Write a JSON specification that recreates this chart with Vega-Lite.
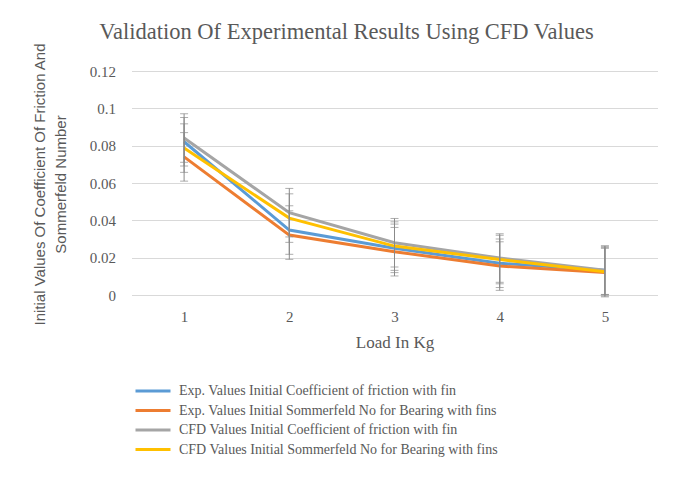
{
  "$schema": "https://vega.github.io/schema/vega-lite/v6.json",
  "width": 526,
  "height": 224,
  "autosize": {"type": "none"},
  "padding": {"left": 131.5, "top": 71, "right": 25.5, "bottom": 201},
  "background": "white",
  "title": {
    "text": "Validation Of  Experimental Results Using CFD Values",
    "font": "Liberation Serif",
    "fontSize": 22.5,
    "fontWeight": "normal",
    "color": "#595959",
    "anchor": "middle",
    "dx": -48,
    "offset": -1
  },
  "config": {
    "view": {"stroke": null},
    "axis": {"labelFont": "Liberation Serif", "labelColor": "#595959", "titleColor": "#595959", "titleFontWeight": "normal"}
  },
  "data": {
    "values": [
      {"Load": 1, "Series": "Exp. Values Initial Coefficient of friction with fin", "Value": 0.0821, "Err": 0.013},
      {"Load": 2, "Series": "Exp. Values Initial Coefficient of friction with fin", "Value": 0.0348, "Err": 0.013},
      {"Load": 3, "Series": "Exp. Values Initial Coefficient of friction with fin", "Value": 0.025, "Err": 0.013},
      {"Load": 4, "Series": "Exp. Values Initial Coefficient of friction with fin", "Value": 0.017, "Err": 0.013},
      {"Load": 5, "Series": "Exp. Values Initial Coefficient of friction with fin", "Value": 0.0132, "Err": 0.013},
      {"Load": 1, "Series": "Exp. Values Initial Sommerfeld No for Bearing with fins", "Value": 0.074, "Err": 0.013},
      {"Load": 2, "Series": "Exp. Values Initial Sommerfeld No for Bearing with fins", "Value": 0.0321, "Err": 0.013},
      {"Load": 3, "Series": "Exp. Values Initial Sommerfeld No for Bearing with fins", "Value": 0.0232, "Err": 0.013},
      {"Load": 4, "Series": "Exp. Values Initial Sommerfeld No for Bearing with fins", "Value": 0.0155, "Err": 0.013},
      {"Load": 5, "Series": "Exp. Values Initial Sommerfeld No for Bearing with fins", "Value": 0.012, "Err": 0.013},
      {"Load": 1, "Series": "CFD Values Initial Coefficient of friction with fin", "Value": 0.0841, "Err": 0.013},
      {"Load": 2, "Series": "CFD Values Initial Coefficient of friction with fin", "Value": 0.0441, "Err": 0.013},
      {"Load": 3, "Series": "CFD Values Initial Coefficient of friction with fin", "Value": 0.028, "Err": 0.013},
      {"Load": 4, "Series": "CFD Values Initial Coefficient of friction with fin", "Value": 0.0198, "Err": 0.013},
      {"Load": 5, "Series": "CFD Values Initial Coefficient of friction with fin", "Value": 0.0133, "Err": 0.013},
      {"Load": 1, "Series": "CFD Values Initial Sommerfeld No for Bearing with fins", "Value": 0.0787, "Err": 0.013},
      {"Load": 2, "Series": "CFD Values Initial Sommerfeld No for Bearing with fins", "Value": 0.0412, "Err": 0.013},
      {"Load": 3, "Series": "CFD Values Initial Sommerfeld No for Bearing with fins", "Value": 0.0262, "Err": 0.013},
      {"Load": 4, "Series": "CFD Values Initial Sommerfeld No for Bearing with fins", "Value": 0.019, "Err": 0.013},
      {"Load": 5, "Series": "CFD Values Initial Sommerfeld No for Bearing with fins", "Value": 0.0125, "Err": 0.013}
    ]
  },
  "encoding": {
    "x": {
      "field": "Load",
      "type": "ordinal",
      "scale": {"type": "point", "padding": 0.5},
      "axis": {
        "title": "Load In Kg",
        "titleFont": "Liberation Serif",
        "titleFontSize": 17,
        "labelFontSize": 15,
        "labelAngle": 0,
        "labelPadding": 14,
        "domain": false,
        "ticks": false,
        "titleY": 47,
        "titleBaseline": "middle"
      }
    },
    "y": {
      "field": "Value",
      "type": "quantitative",
      "scale": {"domain": [0, 0.12], "nice": false},
      "axis": {
        "values": [0, 0.02, 0.04, 0.06, 0.08, 0.1, 0.12],
        "format": ".2~f",
        "title": ["Initial Values Of Coefficient Of Friction And", "Sommerfeld Number"],
        "titleFont": "Liberation Sans",
        "titleFontSize": 15,
        "titleLineHeight": 21,
        "titleAngle": -90,
        "titleAlign": "center",
        "titleBaseline": "middle",
        "titleX": -92,
        "titleY": 113,
        "labelFontSize": 15,
        "labelPadding": 16,
        "domain": false,
        "ticks": false,
        "gridColor": "#d9d9d9",
        "gridWidth": 1
      }
    }
  },
  "layer": [
    {
      "mark": {"type": "line", "strokeWidth": 3},
      "encoding": {
        "color": {
          "field": "Series",
          "type": "nominal",
          "scale": {
            "domain": [
              "Exp. Values Initial Coefficient of friction with fin",
              "Exp. Values Initial Sommerfeld No for Bearing with fins",
              "CFD Values Initial Coefficient of friction with fin",
              "CFD Values Initial Sommerfeld No for Bearing with fins"
            ],
            "range": ["#5B9BD5", "#ED7D31", "#A5A5A5", "#FFC000"]
          },
          "legend": {
            "title": null,
            "orient": "none",
            "legendX": 14.5,
            "legendY": 313,
            "padding": 0,
            "symbolType": "M-5,0H5",
            "symbolSize": 49,
            "symbolStrokeWidth": 3,
            "labelOffset": 19,
            "labelFont": "Liberation Serif",
            "labelFontSize": 14,
            "labelColor": "#595959",
            "labelLimit": 0,
            "rowPadding": 5.5
          }
        }
      }
    },
    {
      "mark": {"type": "errorbar", "color": "#8a8a8a", "ticks": {"size": 8, "color": "#8a8a8a"}},
      "encoding": {
        "yError": {"field": "Err"},
        "detail": {"field": "Series", "type": "nominal"}
      }
    }
  ]
}
